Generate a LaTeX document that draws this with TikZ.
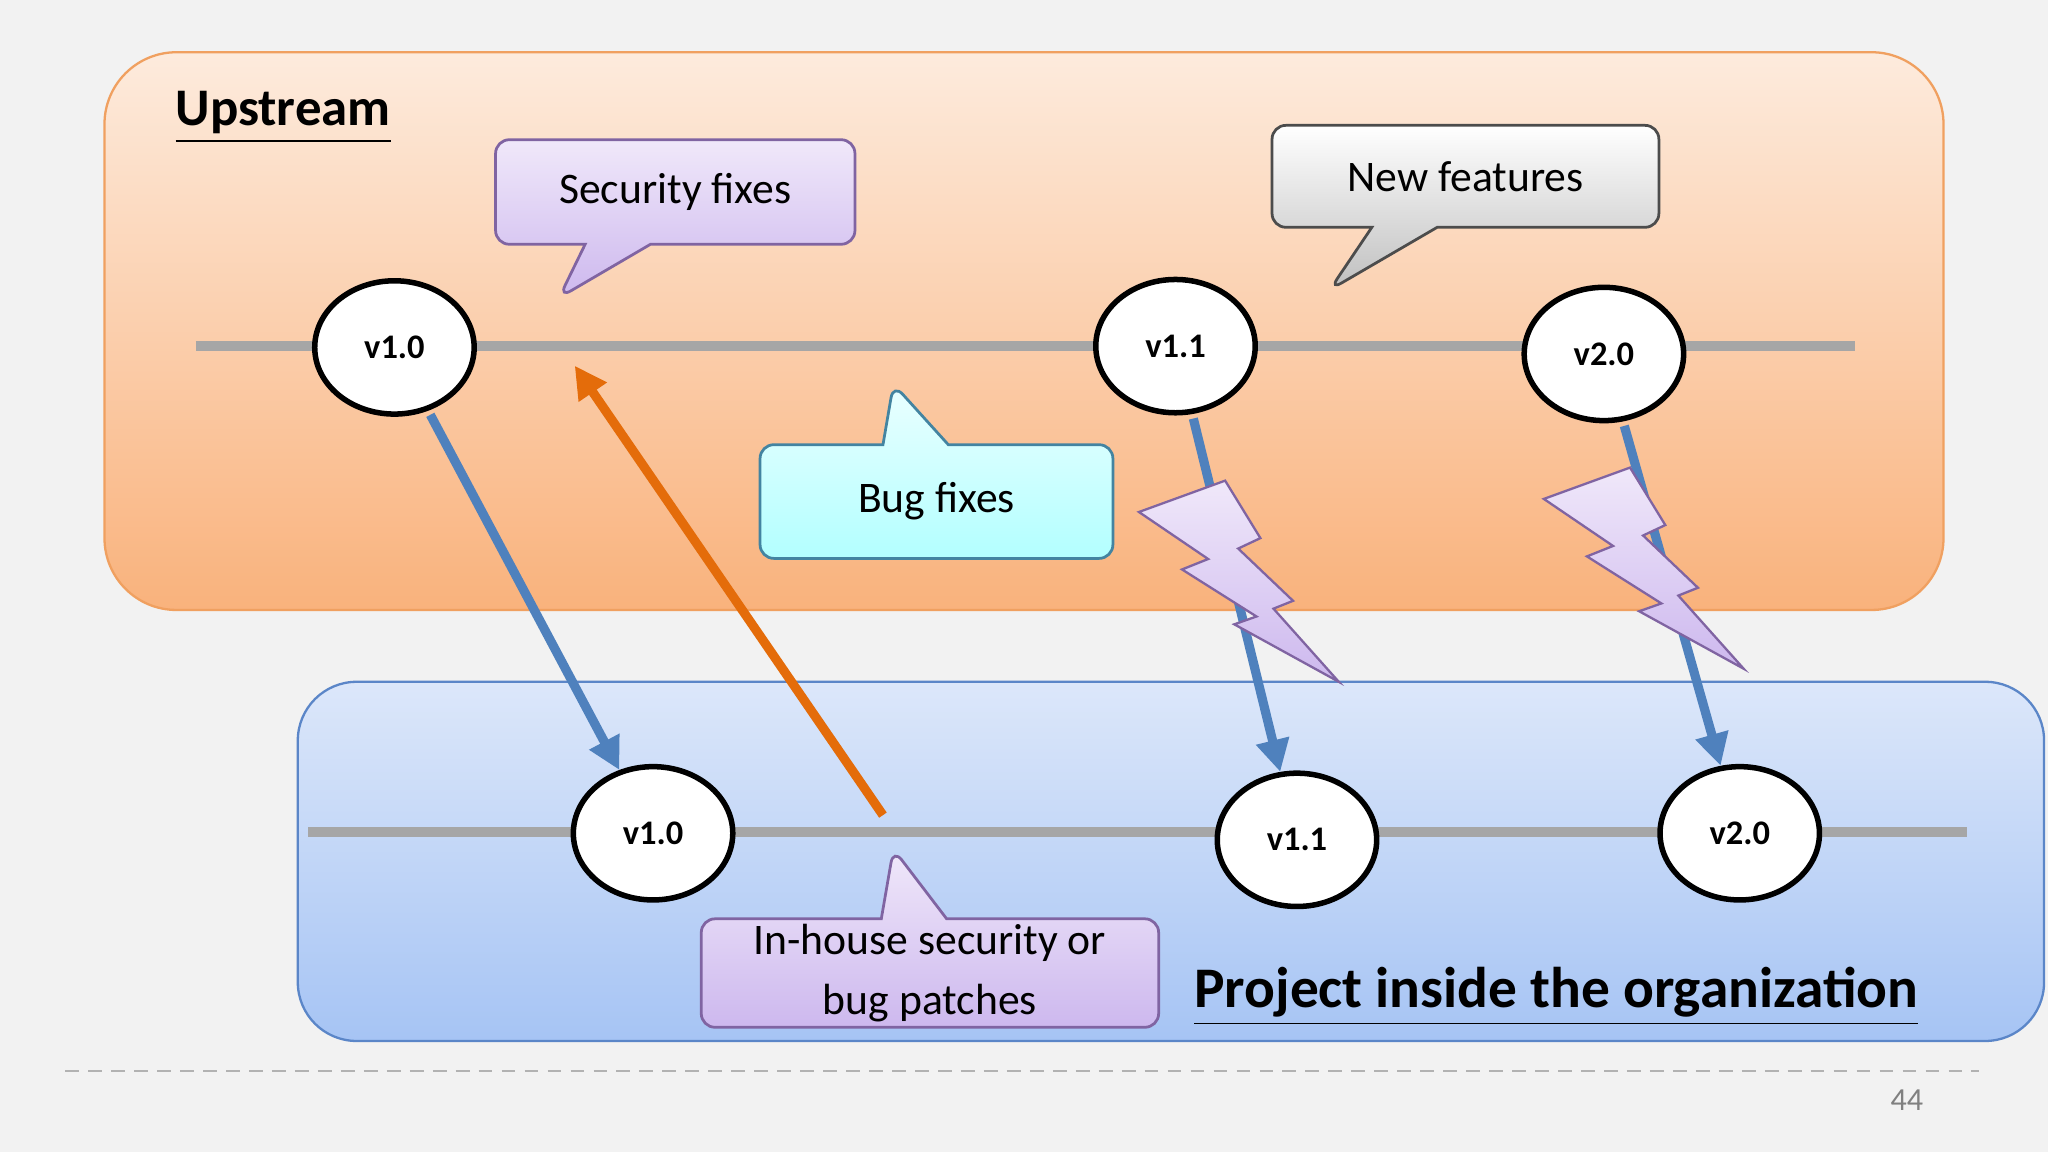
\documentclass[tikz,border=0pt]{standalone}
\usepackage{fontspec}
\setmainfont{Carlito}
\usetikzlibrary{shapes.geometric,shapes.callouts,arrows.meta}
\definecolor{bgc}{HTML}{F2F2F2}
\definecolor{upbor}{HTML}{F0A060}
\definecolor{uptop}{HTML}{FDEBDD}
\definecolor{upbot}{HTML}{F9B27C}
\definecolor{lowbor}{HTML}{5B86C8}
\definecolor{lowtop}{HTML}{DCE7FA}
\definecolor{lowbot}{HTML}{A6C4F4}
\definecolor{linec}{HTML}{A6A6A6}
\definecolor{arrb}{HTML}{4F81BD}
\definecolor{arro}{HTML}{E46C0A}
\definecolor{purtop}{HTML}{F0E8FA}
\definecolor{purbot}{HTML}{CDB8EE}
\definecolor{purbor}{HTML}{8064A2}
\tikzset{
  ver/.style={ellipse, draw=black, line width=1.2pt, fill=white, minimum width=1.22cm, minimum height=1.02cm, inner sep=0pt, font=\bfseries\fontsize{7.5}{9}\selectfont},
  line/.style={linec, line width=2.3pt},
  merge/.style={-{Triangle[length=7pt,width=7pt]}, line width=2pt, shorten <=1pt},
  say/.style={rectangle callout, rounded corners=3pt, draw, line width=0.6pt, align=center, inner sep=0pt, callout pointer width=0.5cm, font=\fontsize{9.5}{12}\selectfont},
  bolt/.style={draw=purbor, line width=0.5pt, top color=purtop, bottom color=purbot}
}
\begin{document}
\begin{tikzpicture}[x=0.01cm,y=-0.01cm]
\useasboundingbox (0,0) rectangle (1568,882);
\fill[bgc] (0,0) rectangle (1568,882);

%Boxes
\draw[upbor, line width=0.5pt, rounded corners=0.55cm, top color=uptop, bottom color=upbot] (80,40) rectangle (1488,467);
\draw[lowbor, line width=0.5pt, rounded corners=0.45cm, top color=lowtop, bottom color=lowbot] (228,522) rectangle (1565,797);
\node[anchor=west, font=\bfseries\fontsize{11.5}{13}\selectfont] (up) at (122,90) {\underline{Upstream}};
\node[anchor=west, font=\bfseries\fontsize{12.5}{14}\selectfont] (org) at (902,763) {\underline{Project inside the organization}};

%Lines
\coordinate (ua) at (150,265);
\coordinate (ub) at (1420,265);
\coordinate (la) at (236,637);
\coordinate (lb) at (1506,637);
\draw[line] (ua) -- (ub);
\draw[line] (la) -- (lb);

%Callouts
\node[say, draw=purbor, top color=purtop, bottom color=purbot, minimum width=2.75cm, minimum height=0.8cm, callout absolute pointer={(428,228)}] (sec) at (517,147) {Security fixes};
\node[say, draw=black!70, top color=white, bottom color=black!25, minimum width=2.96cm, minimum height=0.78cm, callout absolute pointer={(1018,222)}] (new) at (1122,135) {New features};
\node[say, draw=cyan!60!black, top color=cyan!8, bottom color=cyan!30, minimum width=2.7cm, minimum height=0.87cm, callout absolute pointer={(684,294)}] (bug) at (717,384) {Bug fixes};
\node[say, draw=purbor, top color=purtop, bottom color=purbot, minimum width=3.5cm, minimum height=0.83cm, callout absolute pointer={(684,650)}, font=\fontsize{9.5}{13}\selectfont] (inh) at (712,745) {In-house security or\\bug patches};

%Versions
\node[ver] (u10) at (302,266) {v1.0};
\node[ver] (u11) at (900,265) {v1.1};
\node[ver] (u20) at (1228,271) {v2.0};
\node[ver] (l10) at (500,638) {v1.0};
\node[ver] (l11) at (993,643) {v1.1};
\node[ver] (l20) at (1332,638) {v2.0};

%Arrows
\coordinate (pt) at (678,627);
\draw[merge, arrb] (u10) -- (l10);
\draw[merge, arrb] (u11) -- (l11);
\draw[merge, arrb] (u20) -- (l20);
\draw[merge, arro] (pt) -- (440,280);

%Bolts
\foreach \dx/\dy in {0/0, 310/-10}
  \draw[bolt, shift={(\dx,\dy)}] (872,392) -- (938,368) -- (965,412) -- (948,420) -- (990,460) -- (975,466) -- (1025,522) -- (945,478) -- (962,472) -- (905,436) -- (925,428) -- cycle;

%Footer
\draw[black!30, dash pattern=on 3pt off 2pt, line width=0.4pt] (50,820) -- (1515,820);
\node[black!50, font=\fontsize{7}{8}\selectfont] (pg) at (1460,842) {44};
\end{tikzpicture}
\end{document}
